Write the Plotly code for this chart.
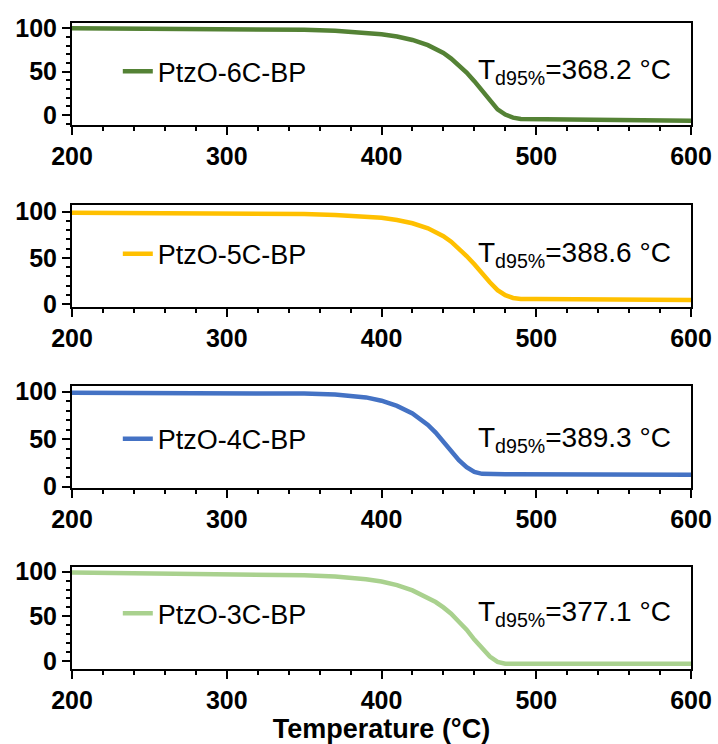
import plotly.graph_objects as go

# ---- data ----
temperature = [200, 250, 300, 330, 350, 370, 380, 390, 400, 410, 420, 430, 435, 440, 445,
               450, 455, 460, 465, 470, 475, 480, 485, 490, 500, 540, 560, 600]

w_6C = [100, 99.8, 99.3, 98.8, 98.2, 97, 96, 94.8, 93, 90.5, 86.5, 80.5, 76.5, 71.5, 65,
        57, 49, 39, 27.5, 16, 6.5, 0.5, -3, -4.5, -4.8, -5.2, -6.2, -6.6]
w_5C = [99, 98.8, 98.5, 98.2, 97.5, 96.5, 95.8, 94.8, 93.5, 91, 87.5, 82, 78, 73.5, 67.5,
        60, 52, 43, 33, 23.5, 15, 9.5, 6.5, 5.5, 5.3, 5.2, 5, 4.2]
w_4C = [99, 98.9, 98.7, 98.5, 98, 97, 96, 94, 90.5, 85, 77, 65, 57, 47, 37,
        28, 20.5, 15.5, 13.5, 13, 13, 13, 13, 13, 13, 12.8, 12.7, 12.5]
w_3C = [99, 97.8, 97.5, 97, 96, 94.5, 93.5, 91.5, 89, 85, 79, 71, 66, 60, 53,
        44, 35, 24, 14, 5, -1, -3, -3.2, -3.2, -3.2, -3.2, -3.2, -3.2]

names = ["PtzO-6C-BP", "PtzO-5C-BP", "PtzO-4C-BP", "PtzO-3C-BP"]
td95 = ["368.2", "388.6", "389.3", "377.1"]
colors = ["#548235", "#FFC000", "#4472C4", "#A9D18E"]
weights = [w_6C, w_5C, w_4C, w_3C]
x_ticks = [200, 300, 400, 500, 600]
y_ticks = [0, 50, 100]
y_ranges = [[-11.5, 106], [-3.6, 107.3], [-1.7, 106], [-9, 105.6]]
label_y = [50, 54, 50, 53]

# ---- layout geometry (pixels) ----
W, H = 718, 744
panels_px = [(23, 125), (205, 307.3), (386, 488.3), (566.7, 669)]

FONT = "Liberation Sans, Arial, sans-serif"
fig = go.Figure()
layout = dict(
    width=W, height=H, autosize=False, showlegend=True,
    margin=dict(l=72, r=27, t=0, b=0, autoexpand=False),
    paper_bgcolor="white", plot_bgcolor="white",
    font=dict(family=FONT, color="black"),
    annotations=[],
)

for i in range(4):
    k = "" if i == 0 else str(i + 1)
    fig.add_trace(go.Scatter(
        x=temperature, y=weights[i], mode="lines", name=names[i], showlegend=True,
        line=dict(color=colors[i], width=4.5),
        xaxis="x" + k, yaxis="y" + k, legend="legend" + k,
    ))
    top, bot = panels_px[i]
    dom = [1 - bot / H, 1 - top / H]
    axis_common = dict(
        showline=True, linecolor="black", linewidth=2, mirror=True,
        showgrid=False, zeroline=False, automargin=False,
        ticks="outside", ticklen=8, tickwidth=2, tickcolor="black",
        tickfont=dict(family=FONT, size=25, color="black", weight="bold"),
    )
    layout["xaxis" + k] = dict(
        axis_common, domain=[0, 1], anchor="y" + k, range=[200, 600],
        tickvals=x_ticks,
        minor=dict(dtick=20, ticks="outside", ticklen=4, tickwidth=2, tickcolor="black"),
    )
    if i == 3:
        layout["xaxis" + k]["title"] = dict(
            text="Temperature (°C)", standoff=2,
            font=dict(family=FONT, size=27, color="black", weight="bold"))
    layout["yaxis" + k] = dict(
        axis_common, domain=dom, anchor="x" + k, range=y_ranges[i],
        tickvals=y_ticks,
        minor=dict(dtick=10, ticks="outside", ticklen=4, tickwidth=2, tickcolor="black"),
    )
    layout["legend" + k] = dict(
        x=0.074, xanchor="left",
        y=dom[0] + (dom[1] - dom[0]) * (label_y[i] - y_ranges[i][0]) / (y_ranges[i][1] - y_ranges[i][0]),
        yanchor="middle", bgcolor="rgba(0,0,0,0)", borderwidth=0,
        font=dict(family=FONT, size=27, color="black"),
    )
    layout["annotations"].append(dict(
        xref="x" + k + " domain", yref="y" + k, x=0.652, y=label_y[i],
        xanchor="left", yanchor="middle", showarrow=False,
        text="T<sub>d95%</sub>=" + td95[i] + " °C",
        font=dict(family=FONT, size=28, color="black"),
    ))

fig.update_layout(**layout)
fig.write_html("out.html")
